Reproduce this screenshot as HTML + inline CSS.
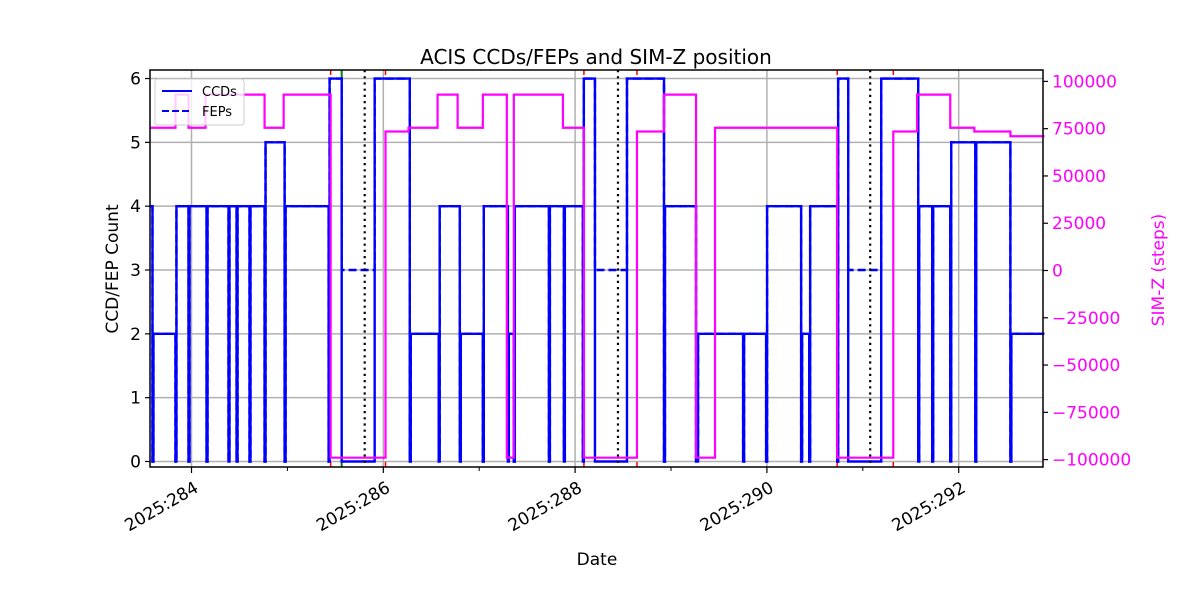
<!DOCTYPE html>
<html><head><meta charset="utf-8"><style>
html,body{margin:0;padding:0;background:#fff;}
svg{display:block;font-family:"DejaVu Sans","Liberation Sans",sans-serif;}
</style></head><body>
<svg id="chart" width="1200" height="600" viewBox="0 0 1200 600">
<rect x="0" y="0" width="1200" height="600" fill="#fff"/>
<g id="grid"></g>
<g id="marks"></g>
<g id="axes"></g>
<text x="596" y="64" font-size="20" text-anchor="middle">ACIS CCDs/FEPs and SIM-Z position</text>
<text x="597" y="565" font-size="17" text-anchor="middle">Date</text>
<text transform="translate(118,269) rotate(-90)" font-size="17" text-anchor="middle">CCD/FEP Count</text>
<text transform="translate(1164,270) rotate(-90)" font-size="17" fill="#ff00ff" text-anchor="middle">SIM-Z (steps)</text>
<g>
<rect x="155" y="79" width="89" height="46" rx="3" fill="#fff" fill-opacity="0.8" stroke="#ccc"/>
<line x1="162" y1="91" x2="192" y2="91" stroke="#0000ff" stroke-width="2"/>
<text x="202" y="96" font-size="13">CCDs</text>
<line x1="162" y1="111" x2="192" y2="111" stroke="#0000ff" stroke-width="2" stroke-dasharray="7,3"/>
<text x="202" y="116" font-size="13">FEPs</text>
</g>
</svg>
<script>
const ccdTimes=[283.572,283.593,283.603,283.833,283.843,283.969,283.979,284.157,284.167,284.386,284.396,284.470,284.480,284.605,284.615,284.762,284.772,284.971,284.981,285.430,285.440,285.566,285.910,286.276,286.286,286.578,286.588,286.798,286.808,287.038,287.048,287.299,287.309,287.361,287.371,287.727,287.737,287.883,287.893,288.081,288.091,288.207,288.541,288.927,288.937,289.261,289.282,289.752,289.762,289.992,290.002,290.357,290.367,290.441,290.451,290.733,290.743,290.848,291.192,291.578,291.588,291.724,291.734,291.912,291.922,292.173,292.183,292.539,292.549];
const ccdValues=[4,0,2,0,4,0,4,0,4,0,4,0,4,0,4,0,5,0,4,0,6,0,6,0,2,0,4,0,2,0,4,0,2,0,4,0,4,0,4,0,6,0,6,0,4,0,2,0,2,0,4,0,2,0,4,0,6,0,6,0,4,0,4,0,5,0,5,0,2];
const fepValues=[4,0,2,0,4,0,4,0,4,0,4,0,4,0,4,0,5,0,4,0,6,3,6,0,2,0,4,0,2,0,4,0,2,0,4,0,4,0,4,0,6,3,6,0,4,0,2,0,2,0,4,0,2,0,4,0,6,3,6,0,4,0,4,0,5,0,5,0,2];
const simzTimes=[283.572,283.833,283.969,284.146,284.762,284.961,285.451,286.023,286.263,286.566,286.775,287.038,287.288,287.361,287.873,288.092,288.645,288.927,289.261,289.459,290.733,291.318,291.566,291.912,292.163,292.539];
const simzValues=[75500,93000,75500,93000,75500,93000,-99000,73500,75500,93000,75500,93000,-99000,93000,75500,-99000,73500,93000,-99000,75500,-99000,73500,93000,75500,73500,71000];
const perihTimes=[285.806,288.447,291.077];
const radTimes=[285.451,286.023,288.092,288.645,290.733,291.318];
const greenTimes=[285.566];
const xTickDays=[284,286,288,290,292];
const xMinorDays=[285,287,289,291];
const yTicks=[0,1,2,3,4,5,6];
const y2Ticks=[-100000,-75000,-50000,-25000,0,25000,50000,75000,100000];
const tEnd=292.894;

const L=150,R=1043,T=70,B=467;
const xS=d=>191.5+(d-284)*95.9;
const yL=v=>461.5-v*63.83;
const yR=v=>270.5-v*0.001891;
const NS="http://www.w3.org/2000/svg";
function mk(tag,attrs,parent){const e=document.createElementNS(NS,tag);for(const k in attrs)e.setAttribute(k,attrs[k]);parent.appendChild(e);return e;}
const grid=document.getElementById('grid'),marks=document.getElementById('marks'),axes=document.getElementById('axes');

yTicks.forEach(v=>{const g=mk('line',{x1:L,x2:R,y1:yL(v),y2:yL(v),stroke:'#b0b0b0','stroke-width':1.5},grid);

});
xTickDays.forEach(d=>{const g=mk('line',{x1:xS(d),x2:xS(d),y1:T,y2:B,stroke:'#b0b0b0','stroke-width':1.5},grid);

});

function stepPath(ts,vs,ys){let d='';for(let i=0;i<ts.length;i++){const x=xS(ts[i]),y=ys(vs[i]);if(i===0)d+=`M${x},${y}`;else d+=`V${y}`;const nx=i<ts.length-1?xS(ts[i+1]):xS(tEnd);d+=`H${nx}`;}return d;}

radTimes.forEach(t=>{
const a=mk('line',{x1:xS(t),x2:xS(t),y1:T,y2:T+5,stroke:'#ff0000','stroke-width':1.5},marks);


const b=mk('line',{x1:xS(t),x2:xS(t),y1:B-5,y2:B,stroke:'#ff0000','stroke-width':1.5},marks);

});
greenTimes.forEach(t=>{const l=mk('line',{x1:xS(t),x2:xS(t),y1:T,y2:B,stroke:'#008000','stroke-width':2},marks);

});

const fp=mk('path',{d:stepPath(ccdTimes,fepValues,yL),fill:'none',stroke:'#0000ff','stroke-width':2.4,'stroke-dasharray':'8,4'},marks);


const cp=mk('path',{d:stepPath(ccdTimes,ccdValues,yL),fill:'none',stroke:'#0000ff','stroke-width':2.4},marks);


perihTimes.forEach(t=>{const l=mk('line',{x1:xS(t),x2:xS(t),y1:T,y2:B,stroke:'#000','stroke-width':2.2,'stroke-dasharray':'2.2,4'},marks);

});
const sp=mk('path',{d:stepPath(simzTimes,simzValues,yR),fill:'none',stroke:'#ff00ff','stroke-width':2.2},marks);



const fr=mk('rect',{x:L,y:T,width:R-L,height:B-T,fill:'none',stroke:'#000','stroke-width':1.5},axes);



yTicks.forEach(v=>{const y=yL(v);mk('line',{x1:L-5,x2:L,y1:y,y2:y,stroke:'#000','stroke-width':1.2},axes);
const t=mk('text',{x:L-9,y:y+6,'font-size':17,'text-anchor':'end'},axes);t.textContent=v;

});
y2Ticks.forEach(v=>{const y=yR(v);mk('line',{x1:R,x2:R+5,y1:y,y2:y,stroke:'#000','stroke-width':1.2},axes);
const t=mk('text',{x:R+9,y:y+6,'font-size':17,fill:'#ff00ff'},axes);t.textContent=(v<0?'\u2212'+(-v):v);

});
xTickDays.forEach(d=>{const x=xS(d);mk('line',{x1:x,x2:x,y1:B,y2:B+6,stroke:'#000','stroke-width':1.2},axes);
const t=mk('text',{transform:`translate(${x+8},${B+24}) rotate(-30)`,'font-size':17,'text-anchor':'end'},axes);t.textContent='2025:'+d;

});
xMinorDays.forEach(d=>{const x=xS(d);mk('line',{x1:x,x2:x,y1:B,y2:B+4,stroke:'#000','stroke-width':1},axes);});
</script>
</body></html>
